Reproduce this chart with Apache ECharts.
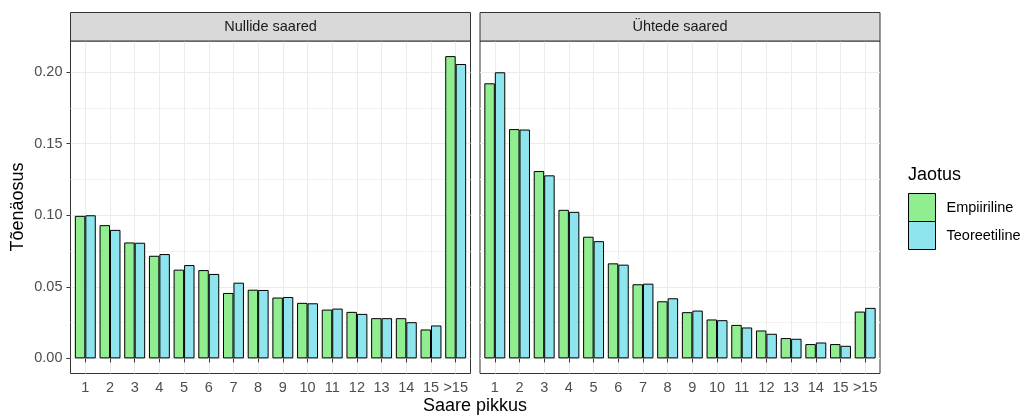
<!DOCTYPE html>
<html>
<head>
<meta charset="utf-8">
<script src="https://cdn.jsdelivr.net/npm/echarts@6/dist/echarts.min.js"></script>
<style>html,body{margin:0;padding:0;background:#fff;}#c{width:1024px;height:417px;}</style>
</head>
<body>
<div id="c"></div>
<script>
var categories = ['1','2','3','4','5','6','7','8','9','10','11','12','13','14','15','>15'];
var panels = ['Nullide saared', 'Ühtede saared'];
var seriesNames = ['Empiiriline', 'Teoreetiline'];
var nullEmp = [0.0996,0.0931,0.0810,0.0717,0.0620,0.0617,0.0457,0.0480,0.0425,0.0388,0.0341,0.0325,0.0281,0.0281,0.0202,0.2112];
var nullTeo = [0.1000,0.0898,0.0808,0.0729,0.0652,0.0590,0.0529,0.0478,0.0429,0.0385,0.0348,0.0311,0.0281,0.0253,0.0230,0.2057];
var uhtEmp  = [0.1922,0.1602,0.1309,0.1038,0.0850,0.0664,0.0518,0.0399,0.0323,0.0272,0.0234,0.0195,0.0142,0.0100,0.0100,0.0327];
var uhtTeo  = [0.1999,0.1599,0.1279,0.1024,0.0819,0.0655,0.0522,0.0420,0.0334,0.0267,0.0216,0.0172,0.0137,0.0111,0.0088,0.0353];
var yTicks = [0, 0.05, 0.10, 0.15, 0.20];
var yMinor = [0.025, 0.075, 0.125, 0.175];

var FONT = '"Liberation Sans", Arial, Helvetica, sans-serif';
var SMALL = 14.5, BIG = 18;
var colors = ['#90EE90', '#8EE5EE'];
var xPos = categories.map(function(c, i){ return i + 1; });
var allVals = nullEmp.concat(nullTeo, uhtEmp, uhtTeo);
var yMaxData = Math.max.apply(null, allVals);
var yPad = yMaxData * 0.05;
var yMin = -yPad, yMax = yMaxData + yPad;

var grids = [
  {left: 70.5, top: 41, width: 400, height: 332.5},
  {left: 480, top: 41, width: 400, height: 332.5}
];
var bandPx = 400 / 17.2;
var barW = bandPx * 0.45;

var xAxes = [], yAxes = [], series = [], graphics = [];
grids.forEach(function(g, gi){
  xAxes.push({
    type: 'value', gridIndex: gi, min: 0.4, max: 16.6,
    axisLine: {show: false},
    axisTick: {show: true, customValues: xPos, length: 4, lineStyle: {color: '#333333', width: 1}},
    axisLabel: {show: true, customValues: xPos, margin: 7, color: '#4D4D4D', fontSize: SMALL, fontFamily: FONT,
      formatter: function(v){ return categories[Math.round(v) - 1] || ''; }},
    splitLine: {show: true, lineStyle: {color: '#EBEBEB', width: 1}}
  });
  yAxes.push({
    type: 'value', gridIndex: gi, min: yMin, max: yMax,
    axisLine: {show: false},
    axisTick: {show: gi === 0, customValues: yTicks, length: 4, lineStyle: {color: '#333333', width: 1}},
    axisLabel: {show: gi === 0, customValues: yTicks, margin: 8, color: '#4D4D4D', fontSize: SMALL, fontFamily: FONT,
      formatter: function(v){ return v.toFixed(2); }},
    splitLine: {show: true, lineStyle: {color: '#EBEBEB', width: 1}}
  });
  yAxes.push({
    type: 'value', gridIndex: gi, min: yMin, max: yMax,
    axisLine: {show: false},
    axisTick: {show: false, customValues: yMinor},
    axisLabel: {show: false, customValues: yMinor},
    splitLine: {show: true, lineStyle: {color: '#F2F2F2', width: 1}}
  });
  graphics.push({
    type: 'rect', shape: {x: g.left, y: 12.5, width: g.width, height: g.top - 12.5},
    style: {fill: '#D9D9D9', stroke: '#333333', lineWidth: 1}, z: 10
  });
  graphics.push({
    type: 'text', x: g.left + g.width / 2, y: 27, z: 11,
    style: {text: panels[gi], fill: '#1A1A1A', font: SMALL + 'px ' + FONT, textAlign: 'center', textVerticalAlign: 'middle'}
  });
});

var panelData = [[nullEmp, nullTeo], [uhtEmp, uhtTeo]];
panelData.forEach(function(pd, gi){
  pd.forEach(function(vals, si){
    series.push({
      type: 'bar', name: seriesNames[si], xAxisIndex: gi, yAxisIndex: gi * 2,
      barWidth: barW, barGap: '0%',
      data: vals.map(function(v, i){ return [xPos[i], v]; }),
      itemStyle: {color: colors[si], borderColor: '#000000', borderWidth: 1},
      emphasis: {disabled: true}
    });
  });
});

graphics.push({
  type: 'text', x: 18.5, y: 207, rotation: Math.PI / 2,
  style: {text: 'Tõenäosus', fill: '#000', font: BIG + 'px ' + FONT, textAlign: 'center', textVerticalAlign: 'middle'}
});
graphics.push({
  type: 'text', x: 475, y: 406,
  style: {text: 'Saare pikkus', fill: '#000', font: BIG + 'px ' + FONT, textAlign: 'center', textVerticalAlign: 'middle'}
});
graphics.push({
  type: 'text', x: 908, y: 175,
  style: {text: 'Jaotus', fill: '#000', font: BIG + 'px ' + FONT, textAlign: 'left', textVerticalAlign: 'middle'}
});

var chart = echarts.init(document.getElementById('c'), null, {renderer: 'canvas'});
chart.setOption({
  animation: false,
  backgroundColor: '#ffffff',
  grid: grids.map(function(g){ return Object.assign({show: true, borderColor: '#333333', borderWidth: 1, backgroundColor: 'transparent'}, g); }),
  xAxis: xAxes,
  yAxis: yAxes,
  legend: {
    data: seriesNames, orient: 'vertical', left: 908, top: 193, padding: 0,
    itemWidth: 27, itemHeight: 28, itemGap: -1, icon: 'rect',
    itemStyle: {borderWidth: 1, borderColor: '#000000'},
    textStyle: {fontSize: SMALL, color: '#000', fontFamily: FONT, padding: [0, 0, 0, 6]},
    selectedMode: false
  },
  series: series,
  graphic: graphics
});
</script>
</body>
</html>
